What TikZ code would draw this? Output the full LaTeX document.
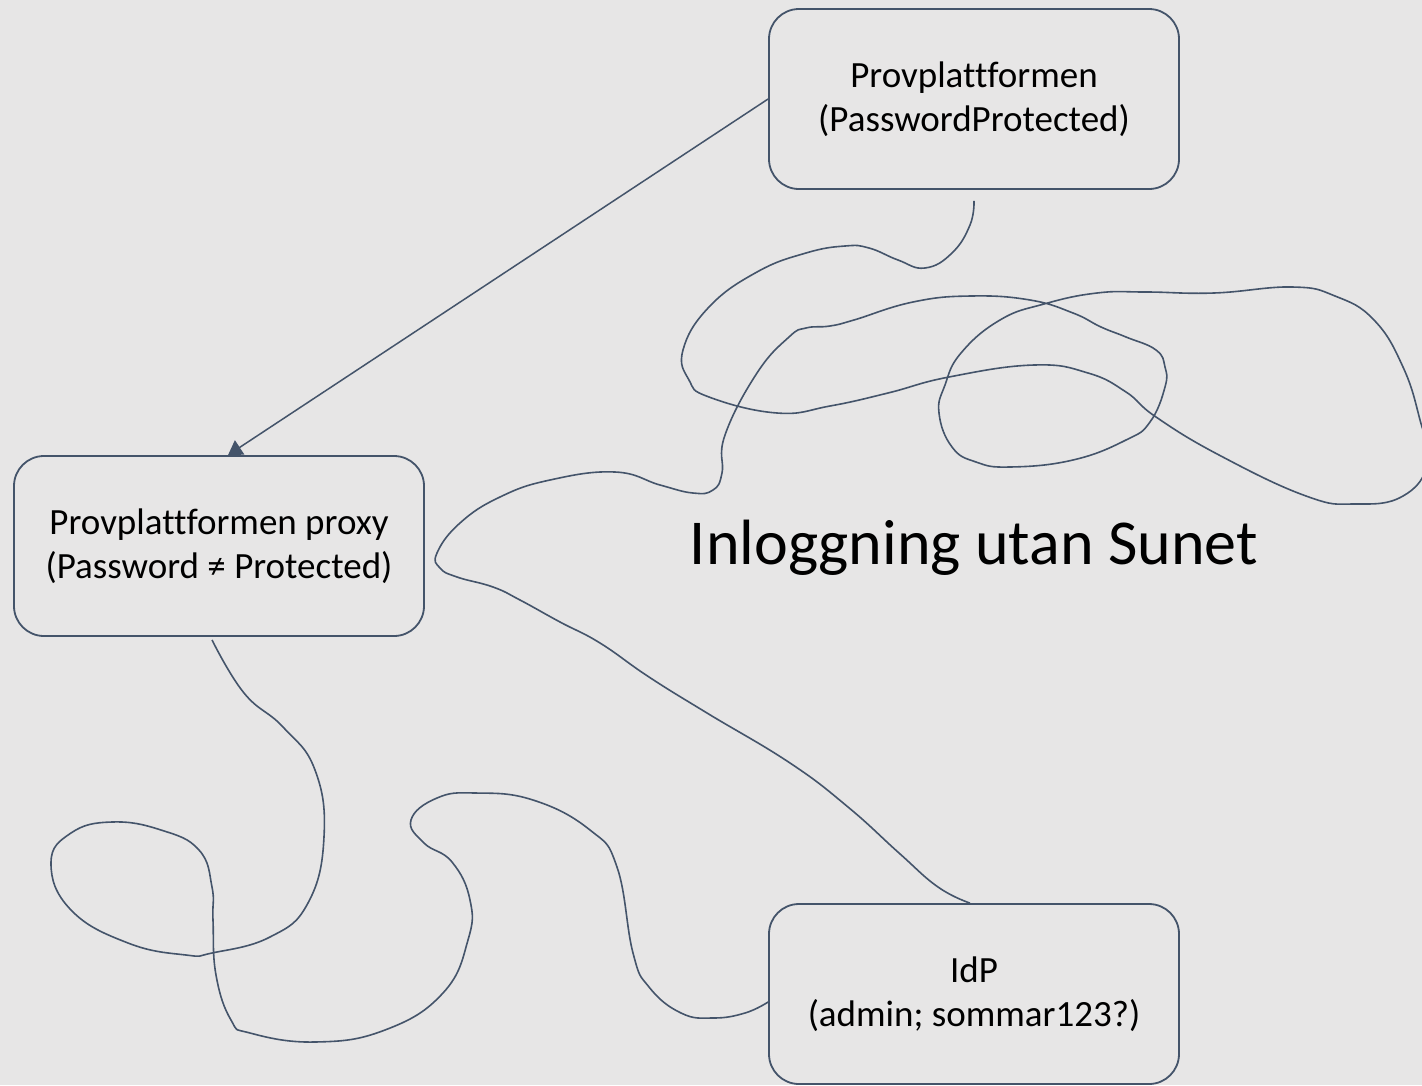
\documentclass[tikz,border=0pt]{standalone}
\usepackage{fontspec}
\setmainfont{Carlito}[Ligatures=NoCommon]
\usetikzlibrary{arrows.meta}
\definecolor{slate}{HTML}{44546A}
\definecolor{paper}{HTML}{E7E6E6}
\begin{document}
\begin{tikzpicture}[x=1pt,y=-1pt,
    box/.style={draw=slate, line width=1.8pt, rounded corners=30pt,
      minimum width=410pt, minimum height=180pt, align=center,
      font=\fontsize{37}{44}\selectfont},
    link/.style={draw=slate, line width=1.5pt, -{Triangle[length=14pt,width=17pt]}},
    squiggle/.style={draw=slate, line width=1.6pt}]

      \useasboundingbox (0,0) rectangle (1422,1085);
      \fill[paper] (0,0) rectangle (1422,1085);

      \begin{scope}[every node/.style={box}]
        \node (top)   at (974,99)  {Provplattformen\\(PasswordProtected)};
        \node (proxy) at (219,546) {Provplattformen proxy\\(Password ≠ Protected)};
        \node (idp)   at (974,994) {IdP\\(admin; sommar123?)};
      \end{scope}

      \node[font=\fontsize{64}{76}\selectfont] (title) at (974,548) {Inloggning utan Sunet};

      \path[link] (top.west) -- ([xshift=9pt]proxy.north);

      \draw[squiggle] plot[smooth, tension=.75] coordinates {
        ([yshift=-11pt]top.south) (970,225) (952,253) (925,268) (898,260)
        (869,248) (845,246) (806,253) (757,272) (709,307) (683,350)
        (689,380) (709,397) (777,413) (830,406) (888,393) (949,377)
        (1034,365) (1088,373) (1126,392) (1156,417) (1219,455) (1306,496)
        (1355,504) (1403,496) (1428,462) (1420,420) (1403,367) (1374,320)
        (1335,296) (1292,287) (1214,293) (1146,292) (1097,293) (1044,304)
        (1000,320) (961,353) (945,385) (939,413) (952,447) (976,462)
        (1010,467) (1073,460) (1126,440) (1150,422) (1165,387) (1165,367)
        (1156,350) (1126,337) (1101,327) (1073,313) (1030,300) (971,296)
        (913,302) (854,320) (830,326) (806,328) (789,337) (757,373)
        (725,435) (722,473) (713,490) (693,493) (660,485)
        (615,472) (550,480) (500,497) (460,523) (437,553) (440,568)
        (457,577) (493,587) (520,600) (560,622) (600,643) (649,677)
        (707,713) (790,763) (848,807) (899,853) (938,887)
        ([xshift=-4pt]idp.north)};

      \draw[squiggle] plot[smooth, tension=.75] coordinates {
        ([xshift=-7pt,yshift=-3pt]proxy.south) (244,693) (283,727)
        (315,770) (324,837) (308,903) (270,937) (212,953) (186,955)
        (128,943) (71,910) (51,863) (71,833) (112,822) (161,830)
        (199,850) (212,887) (213,920) (216,975) (231,1020) (250,1033)
        (315,1042) (385,1030) (443,993) (468,940) (470,900) (452,862)
        (424,843) (411,820) (437,798) (475,793) (533,800) (590,830)
        (617,867) (633,953) (649,987) (681,1013) (713,1018) (745,1013)
        ([yshift=-8pt]idp.west)};

    \end{tikzpicture}
\end{document}
